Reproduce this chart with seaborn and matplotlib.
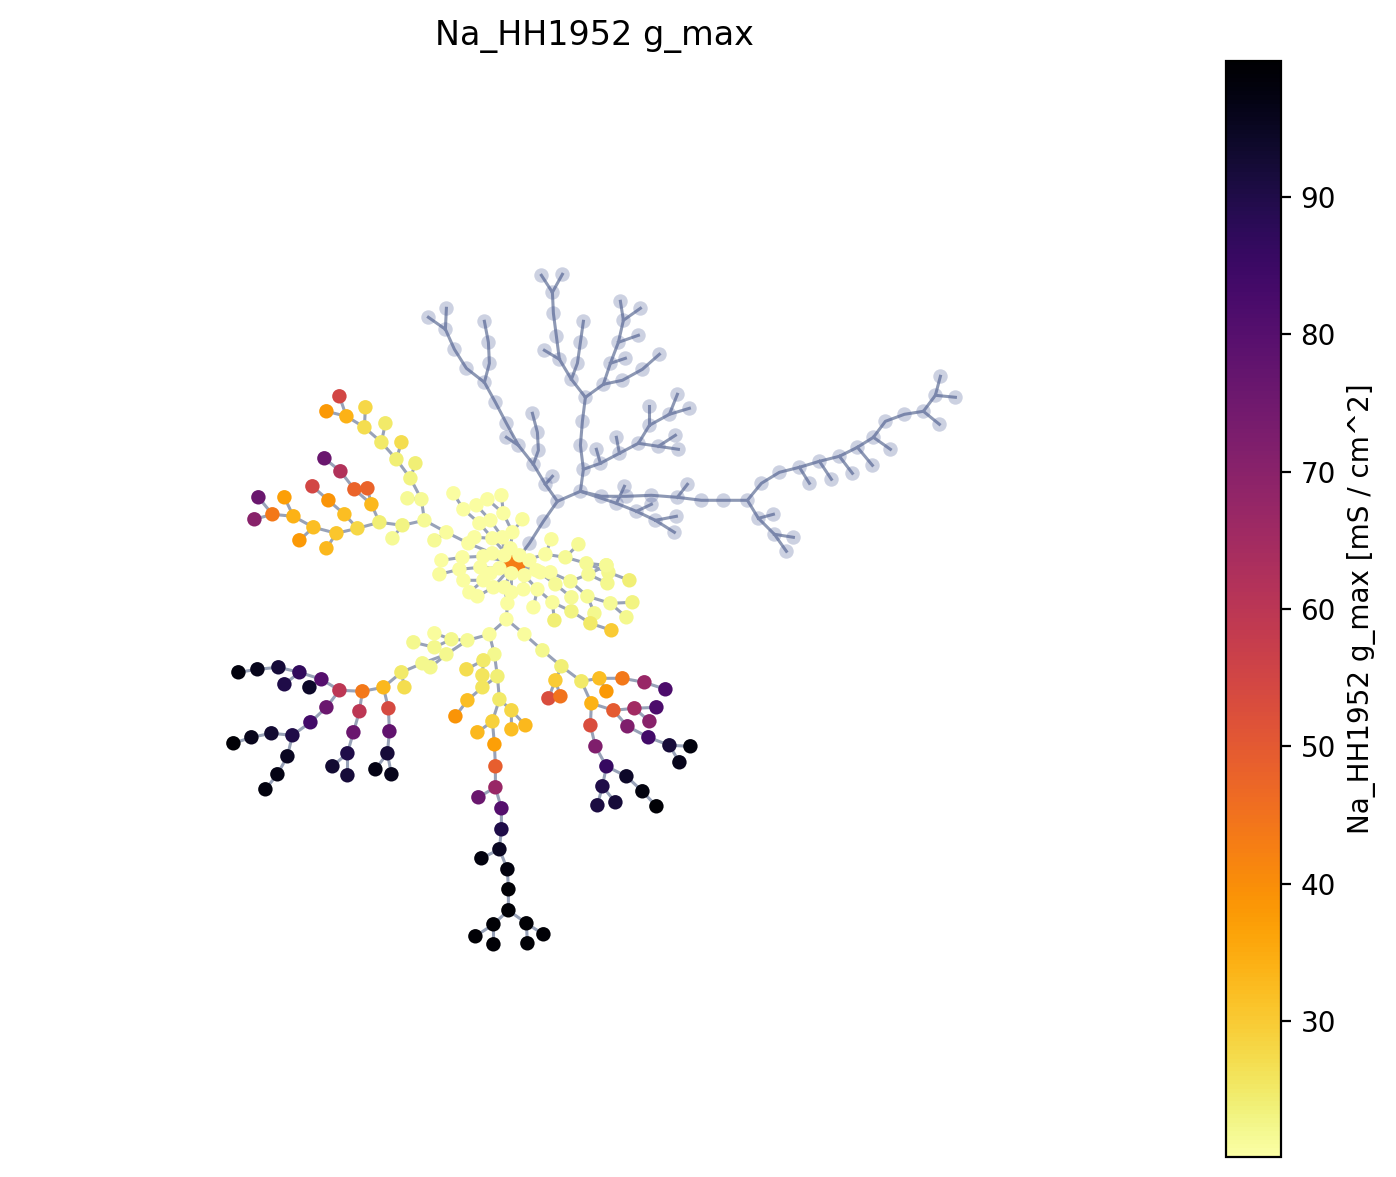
# -*- coding: utf-8 -*-

import matplotlib
matplotlib.use('Agg')
import matplotlib.pyplot as plt
from matplotlib.colors import Normalize
from matplotlib.cm import ScalarMappable
import seaborn as sns
import pandas as pd

# Each section is a chain of points, the first point being the parent it hangs from.
# No channel in these sections (apical tree)
bare_x = [
    [514, 529, 543, 557, 580],
    [557, 545, 533, 518, 506, 495, 484, 466, 454, 445, 428],
    [545, 552], [533, 538, 537, 532], [518, 506], [484, 489, 488, 484], [445, 446],
    [580, 583, 580, 582, 585],
    [583, 600, 619, 638, 649, 669, 677],
    [600, 596], [619, 616], [649, 649], [669, 689], [638, 658, 678], [658, 675],
    [585, 571, 559, 556, 553, 552, 541],
    [552, 562], [559, 544], [571, 577, 580, 583],
    [585, 603, 622, 642, 659],
    [603, 610, 618, 623, 620], [610, 625], [618, 638], [623, 640],
    [580, 601, 626, 651, 677, 701, 723, 747, 761, 779, 799, 819, 839, 857, 873, 885, 904, 923, 935, 940],
    [935, 955], [923, 939], [799, 809], [819, 831], [839, 852], [857, 872], [873, 890],
    [747, 758, 774, 786], [758, 773], [774, 793], [677, 687],
    [580, 616, 636, 655, 674], [616, 624], [636, 651], [655, 676],
]
bare_y = [
    [563, 543, 521, 501, 491],
    [501, 484, 464, 445, 423, 402, 382, 368, 349, 329, 317],
    [484, 476], [464, 450, 432, 413], [445, 437], [382, 363, 342, 321], [329, 308],
    [491, 469, 445, 421, 397],
    [469, 463, 453, 443, 425, 414, 394],
    [463, 449], [453, 437], [425, 406], [414, 408], [443, 446, 449], [446, 435],
    [397, 379, 359, 336, 313, 292, 275],
    [292, 274], [359, 350], [379, 363, 342, 321],
    [397, 384, 380, 369, 354],
    [384, 363, 342, 320, 301], [363, 358], [342, 335], [320, 308],
    [491, 496, 496, 495, 497, 500, 500, 500, 483, 472, 467, 461, 456, 447, 437, 421, 414, 411, 395, 376],
    [395, 397], [411, 424], [467, 483], [461, 479], [456, 473], [447, 465], [437, 449],
    [500, 518, 534, 551], [518, 514], [534, 537], [497, 484],
    [491, 503, 511, 520, 532], [503, 486], [511, 504], [520, 516],
]

# Sections with Na_HH1952, gmax has one value per point after the parent
soma_x, soma_y, soma_gmax = 514, 563, 43

chan_x = [
    [514, 510, 512, 503, 487], [503, 501], [512, 522],
    [514, 504, 502, 490, 476],
    [514, 492, 479, 463, 453], [492, 474],
    [514, 483, 462, 441], [514, 499, 480, 459, 439],
    [514, 490, 483, 463], [483, 469], [514, 493, 477], [514, 511, 511],
    [514, 519], [514, 529],
    [514, 545, 551], [545, 565, 578], [565, 586, 608, 629], [586, 606],
    [514, 540, 550, 570, 588, 606], [588, 607],
    [570, 587, 610, 632], [587, 594], [610, 626],
    [514, 524, 537, 552, 571, 590, 611], [537, 533], [552, 554],
    [514, 536, 555, 571], [524, 523],
    # left trunk
    [514, 492, 468, 446, 424, 421, 410, 396, 381, 364, 346, 339],
    [446, 434], [421, 407], [410, 415], [396, 401], [381, 385], [364, 365], [346, 326],
    [424, 402, 379, 357, 336, 313, 293, 272, 258],
    [402, 392], [336, 326], [313, 299], [293, 284], [272, 254],
    [379, 371, 354, 340, 324], [371, 367], [357, 344, 328, 312],
    # lower left
    [514, 504, 507, 506, 489, 467, 451, 434, 413], [451, 434],
    [467, 446, 422, 401, 383, 362, 339], [446, 430], [401, 404],
    [383, 388, 389, 387, 375], [387, 391],
    [362, 359, 353, 347, 332], [347, 347],
    [339, 321, 299, 278, 257, 238], [299, 284], [321, 309],
    [339, 326, 310, 292, 271, 251, 233], [292, 287, 277, 265],
    # lower middle
    [489, 494, 497, 499, 492, 494, 495, 495, 501, 501, 499, 507, 508, 508, 493, 475],
    [497, 482, 467, 455], [482, 482, 483, 466],
    [499, 511, 511], [511, 525], [492, 477], [495, 478], [499, 481],
    [493, 493], [508, 526, 527], [526, 543],
    # lower right
    [506, 524, 542, 561, 581, 599, 622, 644, 665], [599, 606],
    [561, 555, 548], [555, 560],
    [581, 591, 613, 634, 656], [634, 649],
    [613, 627, 648, 669, 690], [669, 679],
    [591, 590, 595, 606, 626, 642, 656], [606, 602, 597], [602, 615],
]
chan_y = [
    [563, 548, 532, 513, 499], [513, 495], [532, 519],
    [563, 555, 537, 520, 505],
    [563, 538, 523, 509, 493], [538, 537],
    [563, 556, 557, 560], [563, 568, 567, 569, 574],
    [563, 573, 580, 580], [580, 592], [563, 587, 596], [563, 573, 592],
    [563, 555], [563, 560],
    [563, 554, 539], [554, 557, 544], [557, 563, 572, 580], [563, 565],
    [563, 572, 572, 581, 574, 565], [574, 583],
    [581, 596, 603, 602], [596, 613], [603, 617],
    [563, 575, 589, 602, 611, 623, 630], [589, 607], [602, 620],
    [563, 570, 584, 597], [575, 589],
    # left trunk
    [563, 553, 543, 532, 520, 499, 478, 459, 442, 427, 416, 396],
    [532, 540], [499, 498], [478, 463], [459, 442], [442, 423], [427, 407], [416, 411],
    [520, 525, 522, 528, 533, 527, 516, 514, 497],
    [525, 538], [533, 548], [527, 540], [516, 497], [514, 519],
    [522, 504, 489, 471, 458], [504, 488], [528, 514, 500, 486],
    # lower left
    [563, 587, 603, 619, 634, 640, 639, 647, 642], [639, 633],
    [640, 654, 663, 672, 687, 691, 690], [654, 667], [672, 687],
    [687, 708, 731, 753, 769], [753, 774],
    [691, 711, 732, 753, 766], [753, 775],
    [690, 679, 672, 667, 669, 672], [672, 684], [679, 687],
    [690, 707, 722, 735, 733, 737, 743], [735, 756, 774, 789],
    # lower middle
    [634, 654, 676, 699, 721, 744, 766, 787, 808, 829, 849, 869, 889, 910, 924, 936],
    [676, 687, 700, 716], [687, 675, 660, 669],
    [699, 710, 729], [710, 725], [721, 732], [787, 797], [849, 858],
    [924, 944], [910, 923, 943], [923, 934],
    # lower right
    [619, 634, 650, 666, 681, 678, 678, 682, 689], [678, 691],
    [666, 680, 698], [680, 696],
    [681, 703, 710, 708, 707], [708, 721],
    [710, 726, 737, 745, 746], [745, 762],
    [703, 725, 746, 766, 776, 791, 806], [766, 786, 805], [786, 802],
]
chan_gmax = [
    [20.5, 20.5, 20.5, 20.5], [20.5], [21],
    [20.5, 20.5, 20.5, 20.5],
    [20.5, 20.5, 20.5, 20.5], [20.5],
    [20.5, 20.5, 20.5], [20.5, 20.5, 20.5, 21],
    [20.5, 20.5, 20.5], [20.5], [20.5, 20.5], [20.5, 20.5],
    [20.5], [20.5],
    [20.5, 21], [21.5, 21.5], [21.5, 22, 24], [21.5],
    [20.5, 20.5, 21.5, 21.5, 21.5], [22],
    [21.5, 21.5, 23], [22], [22],
    [20.5, 20.5, 21, 23, 25, 30], [20.5], [24],
    [20.5, 21.5, 21.5], [20.5],
    # left trunk
    [20.5, 20.5, 21, 21.5, 21.5, 23, 24, 25, 27, 34, 55],
    [21.5], [21.5], [24], [27], [25], [28], [38],
    [23, 24, 28, 31, 32, 34, 44, 76],
    [21.5], [33], [38], [37], [70],
    [33, 48, 62, 76], [48], [32, 39, 55],
    # lower left
    [20.5, 20.5, 20.5, 21, 21.5, 22, 22, 22], [21],
    [22, 22, 25, 33, 44, 60], [22], [27],
    [54, 78, 92, 97], [96],
    [60, 76, 90, 93], [92],
    [80, 87, 92, 96, 98], [90], [94],
    [76, 84, 90, 93, 96, 99], [95, 97, 98],
    # lower middle
    [22, 24, 25, 29, 37, 49, 67, 80, 90, 95, 98, 99, 99, 99, 99],
    [26, 32, 39], [26, 25, 27],
    [28, 32], [33], [33], [76], [98],
    [99], [99, 99], [99],
    # lower right
    [21, 22, 24, 25, 32, 44, 67, 82], [38],
    [30, 53], [45],
    [34, 50, 65, 82], [70],
    [72, 84, 92, 98], [96],
    [53, 72, 86, 94, 98, 99], [90, 91], [92],
]

cbar_ticks = [30, 40, 50, 60, 70, 80, 90]
gmax_min, gmax_max = 20.1, 99.9


def tabla_secciones(xs, ys, gmaxs=None):
    filas = []
    for i, (sx, sy) in enumerate(zip(xs, ys)):
        for j, (x, y) in enumerate(zip(sx, sy)):
            g = None
            if gmaxs is not None and j > 0:
                g = gmaxs[i][j - 1]
            filas.append({'section': i, 'order': j, 'x': x, 'y': y, 'gmax': g})
    return pd.DataFrame(filas)


W, H = 1396, 1177
fig = plt.figure(figsize=(W / 200, H / 200), dpi=200)
ax = fig.add_axes([60.4 / W, (H - 1157) / H, 1068 / W, 1096 / H])
ax.set_xlim(60, 1128)
ax.set_ylim(1156.7, 60.7)

df_bare = tabla_secciones(bare_x, bare_y)
df_chan = tabla_secciones(chan_x, chan_y, chan_gmax)
norm = Normalize(vmin=gmax_min, vmax=gmax_max)

sns.lineplot(data=df_chan, x='x', y='y', units='section', estimator=None, sort=False,
             color='#98a2b8', linewidth=1.1, ax=ax, legend=False)
sns.lineplot(data=df_bare, x='x', y='y', units='section', estimator=None, sort=False,
             color='#8d98b4', linewidth=1.1, ax=ax, legend=False)

# the nodes
sns.scatterplot(data=df_bare[df_bare['order'] > 0], x='x', y='y', color='#4a5a96', alpha=0.28,
                s=27, linewidth=0, ax=ax, legend=False, zorder=3)
# soma is thicker, most of it hidden under the first nodes
df_soma = pd.DataFrame({'x': [soma_x], 'y': [soma_y], 'gmax': [soma_gmax]})
sns.scatterplot(data=df_soma, x='x', y='y', hue='gmax', palette='inferno_r', hue_norm=norm,
                s=65, linewidth=0, ax=ax, legend=False, zorder=4)
sns.scatterplot(data=df_chan[df_chan['order'] > 0], x='x', y='y', hue='gmax', palette='inferno_r',
                hue_norm=norm, s=27, linewidth=0, ax=ax, legend=False, zorder=4)

ax.set_title('Na_HH1952 g_max', fontsize=12, pad=5.8)
ax.set_axis_off()

cax = fig.add_axes([1226 / W, (H - 1157) / H, 55 / W, 1096 / H])
sm = ScalarMappable(norm=norm, cmap='inferno_r')
cbar = fig.colorbar(sm, cax=cax, ticks=cbar_ticks)
cbar.set_label('Na_HH1952 g_max [mS / cm^2]', fontsize=10)
cbar.ax.tick_params(labelsize=10)

fig.savefig('out.png', dpi=200)
plt.close()
